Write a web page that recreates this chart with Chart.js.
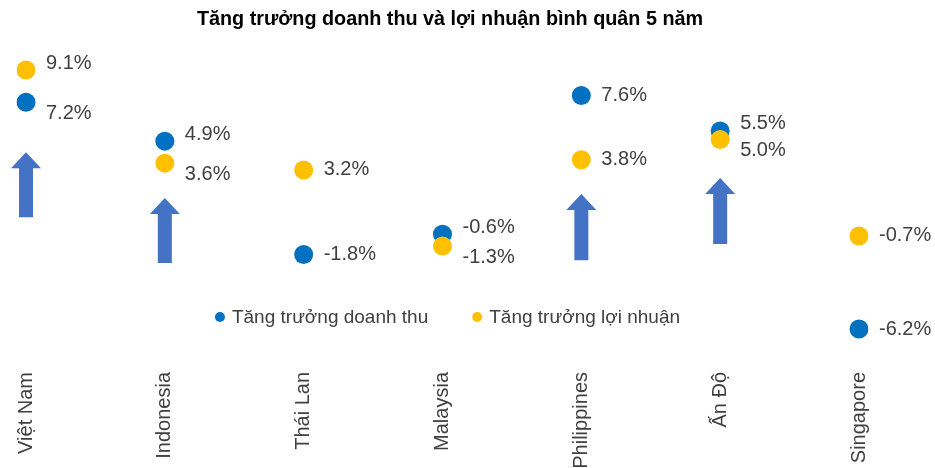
<!DOCTYPE html>
<html>
<head>
<meta charset="utf-8">
<script src="https://cdn.jsdelivr.net/npm/chart.js@4.4.1/dist/chart.umd.min.js"></script>
<style>
  html, body { margin: 0; padding: 0; background: #ffffff; }
  #wrap { width: 935px; height: 468px; position: relative; }
</style>
</head>
<body>
<div id="wrap"><canvas id="c" width="935" height="468"></canvas></div>
<script>
// ---- Data ----
const categories = ['Việt Nam', 'Indonesia', 'Thái Lan', 'Malaysia', 'Philippines', 'Ấn Độ', 'Singapore'];
const revenueGrowth = [7.2, 4.9, -1.8, -0.6, 7.6, 5.5, -6.2];
const profitGrowth = [9.1, 3.6, 3.2, -1.3, 3.8, 5.0, -0.7];
const seriesNames = ['Tăng trưởng doanh thu', 'Tăng trưởng lợi nhuận'];
const chartTitle = 'Tăng trưởng doanh thu và lợi nhuận bình quân 5 năm';
// Up-arrow annotations (category, tip value, tail value)
const arrowCategories = ['Việt Nam', 'Indonesia', 'Philippines', 'Ấn Độ'];
const arrowTop = [4.25, 1.54, 1.77, 2.72];
const arrowBottom = [0.41, -2.3, -2.13, -1.18];

const BLUE = '#0070C0';
const GOLD = '#FFC000';
const ARROW = '#4472C4';
const TEXT = '#404040';
const FONT = "'Liberation Sans', Arial, sans-serif";

// Title drawn at the top
const titlePlugin = {
  id: 'topTitle',
  afterDraw(chart) {
    const { ctx } = chart;
    ctx.save();
    ctx.font = 'bold 19.8px ' + FONT;
    ctx.fillStyle = '#000000';
    ctx.textAlign = 'center';
    ctx.textBaseline = 'middle';
    ctx.fillText(chartTitle, 450, 20);
    ctx.restore();
  }
};

// Arrows drawn behind points
const arrowPlugin = {
  id: 'arrows',
  beforeDatasetsDraw(chart) {
    const { ctx, scales: { x, y } } = chart;
    ctx.save();
    ctx.fillStyle = ARROW;
    arrowCategories.forEach((cat, i) => {
      const cx = x.getPixelForValue(categories.indexOf(cat));
      const top = y.getPixelForValue(arrowTop[i]);
      const bot = y.getPixelForValue(arrowBottom[i]);
      const headW = 15, shaftW = 7, headH = 16;
      ctx.beginPath();
      ctx.moveTo(cx, top);
      ctx.lineTo(cx + headW, top + headH);
      ctx.lineTo(cx + shaftW, top + headH);
      ctx.lineTo(cx + shaftW, bot);
      ctx.lineTo(cx - shaftW, bot);
      ctx.lineTo(cx - shaftW, top + headH);
      ctx.lineTo(cx - headW, top + headH);
      ctx.closePath();
      ctx.fill();
    });
    ctx.restore();
  }
};

// Value labels to the right of points
const labelPlugin = {
  id: 'valueLabels',
  afterDatasetsDraw(chart) {
    const { ctx } = chart;
    const metas = chart.data.datasets.map((d, i) => chart.getDatasetMeta(i));
    ctx.save();
    ctx.font = '20px ' + FONT;
    ctx.fillStyle = TEXT;
    ctx.textBaseline = 'middle';
    ctx.textAlign = 'left';
    categories.forEach((c, j) => {
      const pts = metas.map((m, i) => ({ el: m.data[j], v: chart.data.datasets[i].data[j] }));
      const ys = pts.map(p => p.el.y);
      const close = Math.abs(ys[0] - ys[1]) < 40;
      pts.forEach((p, i) => {
        let dy = 0;
        if (close) {
          const other = ys[1 - i];
          dy = p.el.y <= other ? -7 : 11;
        }
        const txt = p.v.toFixed(1) + '%';
        ctx.fillText(txt, p.el.x + 20, p.el.y + dy);
      });
    });
    ctx.restore();
  }
};

// Legend drawn inside the plot area
const legendPlugin = {
  id: 'innerLegend',
  afterDraw(chart) {
    const { ctx, chartArea } = chart;
    ctx.save();
    ctx.font = '19px ' + FONT;
    ctx.textBaseline = 'middle';
    const r = 5, gap = 7, spacing = 44;
    const items = chart.data.datasets.map(d => ({ text: d.label, color: d.backgroundColor, w: ctx.measureText(d.label).width }));
    const total = items.reduce((s, it) => s + 2 * r + gap + it.w, 0) + spacing * (items.length - 1);
    let xx = (chartArea.left + chartArea.right) / 2 + 5 - total / 2;
    const yy = chartArea.bottom - 42.5;
    items.forEach(it => {
      ctx.fillStyle = it.color;
      ctx.beginPath();
      ctx.arc(xx + r, yy, r, 0, Math.PI * 2);
      ctx.fill();
      ctx.fillStyle = TEXT;
      ctx.fillText(it.text, xx + 2 * r + gap, yy + 1);
      xx += 2 * r + gap + it.w + spacing;
    });
    ctx.restore();
  }
};

new Chart(document.getElementById('c'), {
  type: 'line',
  data: {
    labels: categories,
    datasets: [
      { label: seriesNames[0], data: revenueGrowth, showLine: false, backgroundColor: BLUE, borderColor: BLUE,
        pointRadius: 9.5, pointBorderWidth: 0, pointHoverRadius: 9.5, order: 1 },
      { label: seriesNames[1], data: profitGrowth, showLine: false, backgroundColor: GOLD, borderColor: GOLD,
        pointRadius: 9.5, pointBorderWidth: 0, pointHoverRadius: 9.5, order: 0 }
    ]
  },
  options: {
    responsive: false,
    animation: false,
    devicePixelRatio: 1,
    layout: { padding: { left: 26, right: 76, top: 54.8, bottom: 0 } },
    plugins: {
      legend: { display: false },
      tooltip: { enabled: false },
      title: { display: false }
    },
    scales: {
      x: {
        offset: false,
        grid: { display: false },
        border: { display: false },
        ticks: { color: TEXT, font: { family: FONT, size: 20 }, minRotation: 90, maxRotation: 90, padding: 4.5, autoSkip: false },
        afterFit(scale) { scale.height = 108.5; }
      },
      y: {
        display: false,
        min: -8,
        max: 10
      }
    }
  },
  plugins: [arrowPlugin, labelPlugin, legendPlugin, titlePlugin]
});
</script>
</body>
</html>
